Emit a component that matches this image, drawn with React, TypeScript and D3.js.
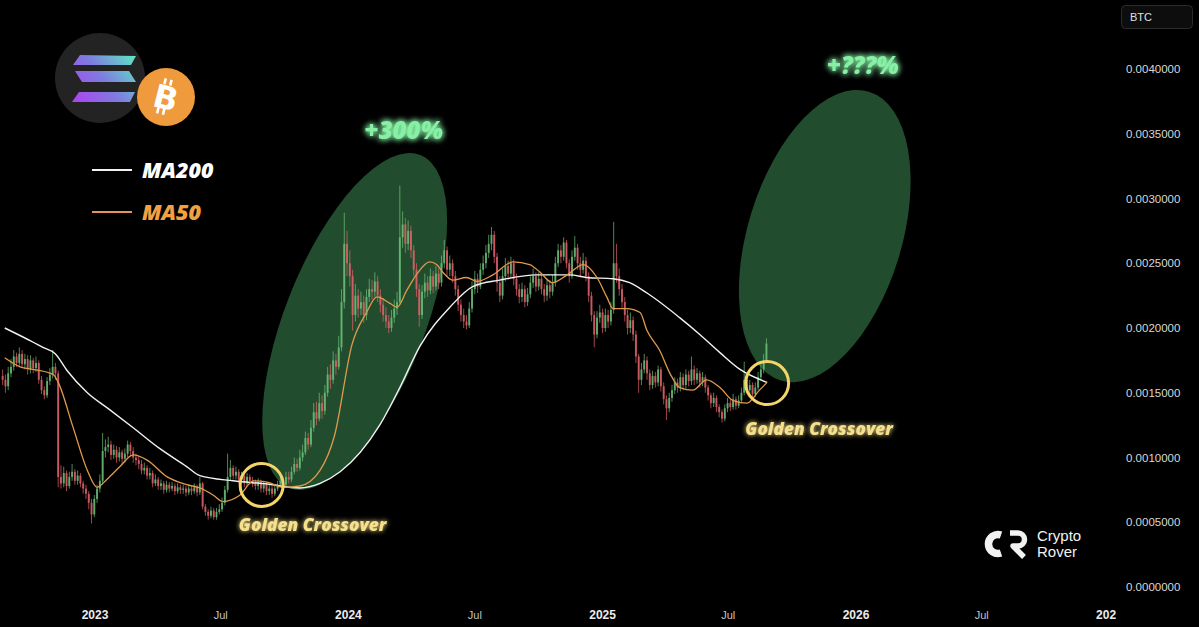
import React from "react";
import * as d3 from "d3";

const W = 1199;
const H = 627;
const UNIT = 1e-4; // values below are in units of 0.0001 BTC

// ---- Candles (4-day candles, SOL/BTC) ----
const candleStart = "2022-08-21";
const candleStepDays = 4;
const firstOpen = 16.3;
const closes = [
  16.0, 15.5, 16.5, 17.0, 17.8, 17.3, 18.0, 17.2, 17.6, 16.8,
  17.5, 16.9, 17.3, 16.0, 15.2, 14.8, 15.9, 16.4, 17.0, 16.5,
  8.5, 8.0, 8.8, 7.8, 8.5, 8.9, 8.2, 8.6, 8.0, 7.6,
  7.2, 6.5, 5.6, 6.8, 7.6, 8.2, 10.5, 10.8, 11.0, 10.2,
  10.6, 10.0, 10.4, 9.9, 10.3, 11.0, 10.5, 10.0, 9.8, 9.5,
  9.0, 9.2, 8.6, 8.8, 8.0, 8.3, 7.8, 8.0, 7.5, 7.9,
  7.6, 7.8, 7.4, 7.7, 7.5, 7.6, 7.3, 7.6, 7.4, 7.7,
  7.3, 8.0, 6.2, 5.8, 5.5, 5.9, 5.4, 5.8, 6.0, 6.5,
  7.5, 8.5, 9.2, 8.6, 8.9, 8.3, 8.6, 8.0, 8.5, 8.2,
  8.0, 7.8, 8.1, 7.6, 7.9, 7.4, 7.6, 7.2, 7.6, 7.9,
  8.2, 7.9, 8.5, 8.3, 8.9, 9.5, 9.2, 10.0, 10.4, 11.5,
  11.0, 12.3, 13.5, 13.0, 14.2, 13.6, 15.0, 16.4, 16.0, 17.5,
  17.0, 18.5, 22.0, 26.5, 25.0, 24.0, 21.0, 22.5, 21.5, 22.0,
  21.0, 22.4, 23.0, 22.8, 23.6, 22.5, 21.8, 21.0, 20.5, 20.0,
  20.8, 21.5, 22.0, 27.0, 28.0, 26.5, 27.5, 26.0, 24.5, 23.0,
  21.0, 22.8, 23.5, 22.9, 24.0, 23.2, 24.2, 23.5, 25.0, 26.0,
  24.5, 25.0, 24.0, 23.0, 21.8, 21.0, 20.5, 20.2, 21.5, 23.0,
  23.8, 23.2, 24.5, 25.0, 25.8, 26.5, 27.2, 25.5, 23.5, 22.5,
  24.0, 24.8, 24.2, 25.0, 23.8, 23.0, 22.4, 23.0, 22.0, 22.6,
  23.5, 24.0, 23.2, 23.8, 23.0, 22.5, 23.3, 22.8, 23.5, 25.0,
  26.0, 25.5, 26.6, 25.0, 24.0, 25.5, 26.2, 25.0, 24.5, 25.2,
  24.0, 22.5, 21.0, 19.5, 20.8, 21.2, 20.0, 21.0, 20.5, 21.4,
  25.0, 24.0, 23.0, 22.0, 21.0, 20.0, 20.6, 19.5, 17.8, 16.0,
  16.8, 17.5, 16.5, 15.6, 16.3, 15.8, 16.8, 15.5, 14.5, 13.8,
  14.6, 15.2, 15.8, 15.4, 16.2, 15.6, 16.4, 15.9, 16.8, 16.0,
  16.5, 15.8, 16.2, 15.4, 14.8, 14.2, 14.6, 13.9, 13.5, 13.0,
  13.8, 14.2, 13.9, 14.5, 14.0, 14.4, 15.0, 16.0, 15.2, 15.6,
  14.9, 15.4, 16.2, 16.8, 17.5, 18.8,
];
const highs = [
  16.8, 16.4, 17.0, 17.6, 18.3, 18.1, 18.5, 18.3, 18.0, 17.9,
  17.9, 17.7, 17.8, 17.5, 16.3, 15.5, 16.2, 16.9, 18.3, 17.3,
  16.7, 9.4, 9.3, 9.0, 8.9, 9.5, 9.1, 9.0, 8.8, 8.2,
  7.9, 7.4, 6.8, 7.1, 7.9, 8.7, 11.9, 11.4, 11.6, 11.3,
  11.0, 10.9, 10.8, 10.6, 10.7, 11.3, 11.2, 10.8, 10.3, 10.1,
  9.8, 9.6, 9.4, 9.2, 9.0, 8.7, 8.5, 8.3, 8.2, 8.2,
  8.1, 8.1, 8.0, 8.0, 7.9, 7.9, 7.8, 7.9, 7.8, 8.0,
  7.9, 8.5, 8.1, 6.4, 6.0, 6.2, 6.1, 6.1, 6.4, 6.9,
  7.8, 10.3, 9.8, 9.4, 9.3, 9.1, 8.9, 8.8, 8.8, 8.7,
  8.5, 8.3, 8.4, 8.3, 8.2, 8.1, 7.9, 7.8, 7.9, 8.2,
  8.6, 8.5, 8.9, 8.9, 9.3, 10.0, 9.9, 10.6, 11.0, 12.0,
  11.9, 12.9, 14.2, 14.3, 15.0, 14.8, 15.6, 17.0, 17.2, 18.2,
  18.0, 19.4, 23.0, 28.9, 27.5, 26.0, 24.5, 23.4, 23.0, 22.8,
  22.5, 23.0, 23.8, 23.7, 24.3, 24.0, 23.0, 22.3, 21.6, 21.0,
  21.4, 22.2, 22.8, 31.0, 29.0, 28.5, 28.3, 27.9, 26.4, 25.0,
  23.4, 23.3, 24.2, 24.0, 24.6, 24.4, 24.8, 24.6, 25.6, 26.8,
  26.3, 25.6, 25.3, 24.4, 23.3, 22.2, 21.5, 21.0, 22.0, 23.6,
  24.4, 24.2, 25.0, 25.6, 26.4, 27.2, 27.8, 27.5, 25.8, 24.0,
  24.6, 25.4, 25.2, 25.5, 25.3, 24.2, 23.4, 23.5, 23.3, 23.1,
  24.0, 24.6, 24.3, 24.3, 24.1, 23.4, 23.8, 23.7, 24.1, 25.5,
  26.5, 26.4, 27.0, 26.8, 25.3, 26.0, 27.1, 26.5, 25.5, 25.8,
  25.5, 24.3, 22.8, 21.3, 21.3, 21.8, 21.5, 21.5, 21.4, 22.0,
  28.2, 26.5, 24.6, 23.4, 22.4, 21.4, 21.2, 20.9, 19.8, 18.0,
  17.3, 18.0, 17.8, 16.8, 16.7, 16.6, 17.1, 17.0, 15.8, 14.8,
  15.0, 15.6, 16.2, 16.1, 16.6, 16.5, 16.8, 16.7, 17.8, 17.1,
  16.9, 16.7, 16.6, 16.4, 15.6, 15.0, 15.0, 14.8, 14.1, 13.7,
  14.1, 14.6, 14.5, 14.9, 14.7, 14.8, 15.4, 17.4, 16.3, 16.0,
  15.8, 15.8, 16.6, 17.2, 18.0, 19.2,
];
const lows = [
  15.6, 15.0, 15.2, 16.2, 16.7, 17.0, 17.0, 16.9, 16.8, 16.4,
  16.5, 16.5, 16.6, 15.7, 14.9, 14.5, 14.6, 15.6, 16.1, 16.0,
  7.7, 7.6, 7.7, 7.4, 7.6, 8.2, 7.9, 7.9, 7.7, 7.2,
  6.8, 6.0, 4.9, 5.4, 6.5, 7.3, 8.0, 10.0, 10.4, 9.8,
  9.9, 9.6, 9.7, 9.5, 9.6, 10.0, 10.1, 9.6, 9.4, 9.1,
  8.7, 8.7, 8.3, 8.3, 7.7, 7.8, 7.5, 7.5, 7.2, 7.3,
  7.3, 7.4, 7.1, 7.2, 7.2, 7.2, 7.0, 7.1, 7.1, 7.2,
  7.0, 7.1, 6.0, 5.5, 5.2, 5.3, 5.2, 5.2, 5.6, 5.8,
  6.3, 7.3, 8.2, 8.3, 8.3, 8.0, 8.0, 7.7, 7.8, 7.9,
  7.7, 7.5, 7.5, 7.3, 7.3, 7.1, 7.1, 6.9, 7.0, 7.4,
  7.7, 7.6, 7.7, 8.0, 8.1, 8.7, 8.9, 9.0, 9.7, 10.2,
  10.6, 10.8, 12.0, 12.5, 12.8, 13.0, 13.3, 14.7, 15.3, 15.7,
  16.4, 16.8, 18.2, 21.5, 24.0, 23.2, 19.8, 20.5, 20.8, 21.0,
  20.4, 20.6, 22.0, 22.2, 22.4, 22.0, 21.2, 20.5, 20.0, 19.6,
  19.7, 20.4, 21.0, 21.8, 26.2, 25.8, 26.0, 25.4, 24.0, 22.4,
  20.1, 20.7, 22.3, 22.4, 22.6, 22.7, 22.9, 23.0, 23.2, 24.6,
  24.0, 24.0, 23.5, 22.5, 21.3, 20.5, 20.0, 19.9, 20.0, 21.2,
  22.6, 22.7, 23.0, 24.1, 24.6, 25.4, 26.0, 25.0, 22.8, 22.0,
  22.2, 23.6, 23.7, 23.9, 23.3, 22.5, 21.9, 22.0, 21.6, 21.7,
  22.3, 23.1, 22.8, 22.9, 22.6, 22.0, 22.1, 22.3, 22.5, 23.2,
  24.7, 25.0, 25.2, 24.6, 23.5, 23.8, 25.2, 24.5, 24.0, 24.2,
  23.6, 22.0, 20.5, 18.5, 19.2, 20.4, 19.6, 19.7, 20.0, 20.2,
  21.1, 23.5, 22.5, 21.5, 20.5, 19.5, 19.6, 19.0, 17.3, 15.0,
  15.6, 16.5, 16.0, 15.2, 15.3, 15.4, 15.5, 15.1, 14.1, 12.9,
  13.5, 14.3, 14.9, 15.0, 15.1, 15.2, 15.3, 15.5, 15.6, 15.6,
  15.7, 15.4, 15.5, 15.0, 14.4, 13.8, 13.9, 13.5, 13.1, 12.7,
  12.8, 13.5, 13.6, 13.7, 13.7, 13.8, 14.2, 14.8, 14.9, 14.9,
  14.6, 14.7, 15.2, 16.0, 16.5, 17.3,
];

// ---- Moving averages ----
const ma200Dates = [
  "2022-08-24", "2022-10-04", "2022-10-18", "2022-11-05", "2022-11-22", "2022-12-21",
  "2023-01-22", "2023-02-25", "2023-04-04", "2023-05-13", "2023-06-01", "2023-07-19",
  "2023-09-06", "2023-10-23", "2023-11-21", "2023-12-20", "2024-01-18", "2024-02-15",
  "2024-03-15", "2024-04-13", "2024-05-26", "2024-06-28", "2024-08-06", "2024-09-28",
  "2024-11-15", "2024-12-09", "2025-01-16", "2025-02-09", "2025-03-06", "2025-04-22",
  "2025-05-21", "2025-06-19", "2025-07-18", "2025-08-26",
];
const ma200Values = [
  20.0, 18.9, 18.5, 18.0, 16.7, 15.0,
  13.7, 12.3, 10.7, 9.3, 8.6, 8.2,
  7.95, 7.65, 8.0, 8.9, 10.4, 12.5,
  15.4, 18.6, 21.6, 23.2, 23.7, 24.1,
  24.1, 23.9, 23.8, 23.5, 22.7, 20.8,
  19.5, 18.1, 16.8, 15.8,
];
const ma50Dates = [
  "2022-08-24", "2022-09-15", "2022-10-04", "2022-11-02", "2022-11-09", "2022-11-30",
  "2022-12-21", "2023-01-04", "2023-01-18", "2023-02-06", "2023-02-25", "2023-03-17",
  "2023-04-15", "2023-05-13", "2023-06-01", "2023-06-20", "2023-07-04", "2023-07-29",
  "2023-08-17", "2023-09-06", "2023-09-29", "2023-10-23", "2023-11-21", "2023-12-12",
  "2024-01-06", "2024-01-27", "2024-02-11", "2024-03-01", "2024-03-11", "2024-03-25",
  "2024-04-09", "2024-04-27", "2024-05-07", "2024-05-16", "2024-05-30", "2024-06-19",
  "2024-07-04", "2024-07-27", "2024-08-25", "2024-09-18", "2024-10-03", "2024-10-21",
  "2024-11-11", "2024-12-04", "2024-12-24", "2025-01-07", "2025-01-16", "2025-02-05",
  "2025-02-24", "2025-03-06", "2025-03-24", "2025-04-08", "2025-04-22", "2025-05-11",
  "2025-05-31", "2025-06-19", "2025-07-08", "2025-07-28", "2025-08-15", "2025-08-26",
];
const ma50Values = [
  17.7, 17.0, 16.8, 16.4, 15.8, 12.4,
  9.0, 7.7, 8.3, 9.3, 10.2, 9.8,
  8.5, 7.9, 7.65, 7.1, 6.6, 7.1,
  8.2, 8.1, 7.7, 7.8, 9.0, 11.7,
  18.7, 21.2, 22.4, 21.9, 21.6, 22.9,
  24.2, 25.1, 24.9, 24.3, 23.7, 23.9,
  23.6, 24.1, 25.1, 24.9, 24.3, 23.5,
  24.1, 24.9, 23.9, 22.4, 21.5, 21.5,
  21.2, 19.8, 18.3, 16.5, 15.4, 15.2,
  16.0, 15.4, 14.4, 14.2, 15.2, 15.8,
];

// ---- Axes ----
const yTickValues = [0, 0.0005, 0.001, 0.0015, 0.002, 0.0025, 0.003, 0.0035, 0.004];
const xTickDates = ["2023-01-01", "2023-07-01", "2024-01-01", "2024-07-01", "2025-01-01", "2025-07-01", "2026-01-01", "2026-07-01", "2027-01-01"];
const xTickLabels = ["2023", "Jul", "2024", "Jul", "2025", "Jul", "2026", "Jul", "2027"];

// ---- Annotations (anchored in data space) ----
const crossoverDates = ["2023-08-29", "2025-08-26"];
const crossoverValues = [7.88, 15.75];
const rallyEllipseDates = ["2024-01-10", "2025-11-17"];
const rallyEllipseValues = [20.5, 27.1];
const rallyLabels = ["+300%", "+???%"];

const parse = d3.timeParse("%Y-%m-%d");

export default function App() {
  const x = d3
    .scaleTime()
    .domain([parse("2023-01-01")!, parse("2026-01-01")!])
    .range([95, 856]);
  const y = d3.scaleLinear().domain([0, 0.004]).range([587, 69]);

  const start = parse(candleStart)!;
  const candles = closes.map((c, i) => ({
    date: d3.timeDay.offset(start, i * candleStepDays),
    open: (i === 0 ? firstOpen : closes[i - 1]) * UNIT,
    close: c * UNIT,
    high: highs[i] * UNIT,
    low: lows[i] * UNIT,
  }));

  const line = d3
    .line<[Date, number]>()
    .x((d) => x(d[0]))
    .y((d) => y(d[1] * UNIT))
    .curve(d3.curveMonotoneX);
  const ma200Path = line(ma200Dates.map((d, i) => [parse(d)!, ma200Values[i]]))!;
  const ma50Path = line(ma50Dates.map((d, i) => [parse(d)!, ma50Values[i]]))!;

  const bw = 1.9;
  const up = "#6cbf78";
  const down = "#e2626b";

  const e1 = { cx: x(parse(rallyEllipseDates[0])!), cy: y(rallyEllipseValues[0] * UNIT) };
  const e2 = { cx: x(parse(rallyEllipseDates[1])!), cy: y(rallyEllipseValues[1] * UNIT) };
  const c1 = { cx: x(parse(crossoverDates[0])!), cy: y(crossoverValues[0] * UNIT) };
  const c2 = { cx: x(parse(crossoverDates[1])!), cy: y(crossoverValues[1] * UNIT) };

  const annoFont = "'Open Sans', 'DejaVu Sans', sans-serif";
  const axisFont = "'Liberation Sans', Arial, sans-serif";

  return (
    <svg
      width={W}
      height={H}
      style={{ position: "absolute", left: 0, top: 0, background: "#000" }}
    >
      <defs>
        <clipPath id="plotClip">
          <rect x={0} y={0} width={1116} height={H} />
        </clipPath>
        <filter id="glowG" x="-40%" y="-80%" width="180%" height="260%">
          <feGaussianBlur in="SourceGraphic" stdDeviation="3" result="b" />
          <feMerge>
            <feMergeNode in="b" />
            <feMergeNode in="b" />
            <feMergeNode in="SourceGraphic" />
          </feMerge>
        </filter>
        <filter id="glowY" x="-30%" y="-80%" width="160%" height="260%">
          <feGaussianBlur in="SourceGraphic" stdDeviation="2.5" result="b" />
          <feMerge>
            <feMergeNode in="b" />
            <feMergeNode in="SourceGraphic" />
          </feMerge>
        </filter>
        <linearGradient id="solGrad" x1="135" y1="55" x2="72" y2="104" gradientUnits="userSpaceOnUse">
          <stop offset="0" stopColor="#5de8c4" />
          <stop offset="0.5" stopColor="#7f7be0" />
          <stop offset="1" stopColor="#b03ff0" />
        </linearGradient>
      </defs>

      <rect x={0} y={0} width={W} height={H} fill="#000" />

      {/* rally ellipses */}
      <ellipse cx={e1.cx} cy={e1.cy} rx={70} ry={179} fill="#214d2e" transform={`rotate(21.5 ${e1.cx} ${e1.cy})`} />
      <ellipse cx={e2.cx} cy={e2.cy} rx={77} ry={151} fill="#214d2e" transform={`rotate(17 ${e2.cx} ${e2.cy})`} />

      <g clipPath="url(#plotClip)">
        {/* candles */}
        {candles.map((d, i) => {
          const col = d.close >= d.open ? up : down;
          const cx = x(d.date);
          const top = y(Math.max(d.open, d.close));
          const bot = y(Math.min(d.open, d.close));
          return (
            <g key={i} opacity={0.9}>
              <line x1={cx} x2={cx} y1={y(d.high)} y2={y(d.low)} stroke={col} strokeWidth={0.8} />
              <rect x={cx - bw / 2} y={top} width={bw} height={Math.max(1, bot - top)} fill={col} />
            </g>
          );
        })}
        {/* moving averages */}
        <path d={ma200Path} fill="none" stroke="#f2f2f2" strokeWidth={1.4} />
        <path d={ma50Path} fill="none" stroke="#e19a4c" strokeWidth={1.3} />
      </g>

      {/* golden crossover circles */}
      {[c1, c2].map((c, i) => (
        <circle key={i} cx={c.cx} cy={c.cy} r={21.5} fill="none" stroke="#f3d56a" strokeWidth={3} />
      ))}

      {/* labels */}
      <text x={e1.cx + 49} y={139} textAnchor="middle" fill="#86f0a5" fontFamily={annoFont} fontStyle="italic" fontWeight={800} fontSize={24} filter="url(#glowG)">
        {rallyLabels[0]}
      </text>
      <text x={e2.cx + 38} y={74} textAnchor="middle" fill="#86f0a5" fontFamily={annoFont} fontStyle="italic" fontWeight={800} fontSize={24} filter="url(#glowG)">
        {rallyLabels[1]}
      </text>
      <text x={c1.cx + 51} y={531} textAnchor="middle" fill="#f6e08c" fontFamily={annoFont} fontStyle="italic" fontWeight={800} fontSize={17.3} filter="url(#glowY)">
        Golden Crossover
      </text>
      <text x={c2.cx + 52} y={435} textAnchor="middle" fill="#f6e08c" fontFamily={annoFont} fontStyle="italic" fontWeight={800} fontSize={17.3} filter="url(#glowY)">
        Golden Crossover
      </text>

      {/* legend */}
      <line x1={92} x2={132} y1={170} y2={170} stroke="#f2f2f2" strokeWidth={2} />
      <text x={142} y={178} fill="#ffffff" fontFamily={annoFont} fontStyle="italic" fontWeight={800} fontSize={21.5}>MA200</text>
      <line x1={92} x2={132} y1={212} y2={212} stroke="#e8915a" strokeWidth={2} />
      <text x={142} y={220} fill="#f3a042" fontFamily={annoFont} fontStyle="italic" fontWeight={800} fontSize={21.5}>MA50</text>

      {/* coin logos */}
      <circle cx={100} cy={78} r={45} fill="#232323" />
      <g fill="url(#solGrad)">
        <path d="M80,55 L136,56 L131,65 L73,65 Z" />
        <path d="M75,71 L129,71 L136,82 L82,82 Z" />
        <path d="M79,92 L135,92 L130,102 L72,102 Z" />
      </g>
      <circle cx={166} cy={97} r={29} fill="#ef9a3c" />
      <g transform="rotate(14 166 97)">
        <rect x={160} y={79} width={2.6} height={6} fill="#fff" />
        <rect x={166} y={79} width={2.6} height={6} fill="#fff" />
        <rect x={160} y={109} width={2.6} height={6} fill="#fff" />
        <rect x={166} y={109} width={2.6} height={6} fill="#fff" />
        <text x={166} y={109} textAnchor="middle" fill="#fff" fontFamily="'DejaVu Sans', sans-serif" fontWeight={700} fontSize={32}>B</text>
      </g>

      {/* y axis */}
      {yTickValues.map((v) => (
        <text key={v} x={1126} y={y(v)} dy="0.35em" fill="#d8d8d8" fontFamily={axisFont} fontSize={11.5}>
          {v.toFixed(7)}
        </text>
      ))}
      <rect x={1121.5} y={5.5} width={71} height={23} rx={4} fill="#0d0d0d" stroke="#2c2c2c" />
      <text x={1130} y={17} dy="0.35em" fill="#e0e0e0" fontFamily={axisFont} fontSize={11}>BTC</text>

      {/* x axis */}
      <g clipPath="url(#plotClip)">
        {xTickDates.map((d, i) => {
          const isYear = xTickLabels[i] !== "Jul";
          return (
            <text
              key={d}
              x={x(parse(d)!)}
              y={619}
              textAnchor="middle"
              fill={isYear ? "#ececec" : "#c4c4c4"}
              fontFamily={axisFont}
              fontWeight={isYear ? 700 : 400}
              fontSize={isYear ? 12 : 11}
            >
              {xTickLabels[i]}
            </text>
          );
        })}
      </g>

      {/* Crypto Rover brand */}
      <g fill="none" stroke="#f2f2f2" strokeLinecap="butt">
        <path d="M1001,535 A9.5,9.5 0 1 0 1001,553" strokeWidth={7.5} />
        <path d="M1010,533 L1018,533 A6.5,6.5 0 0 1 1018,546 L1013,546 L1024,557" strokeWidth={5.5} strokeLinejoin="round" />
      </g>
      <text x={1037} y={541} fill="#f2f2f2" fontFamily={axisFont} fontSize={15}>Crypto</text>
      <text x={1037} y={557} fill="#f2f2f2" fontFamily={axisFont} fontSize={15}>Rover</text>
    </svg>
  );
}
